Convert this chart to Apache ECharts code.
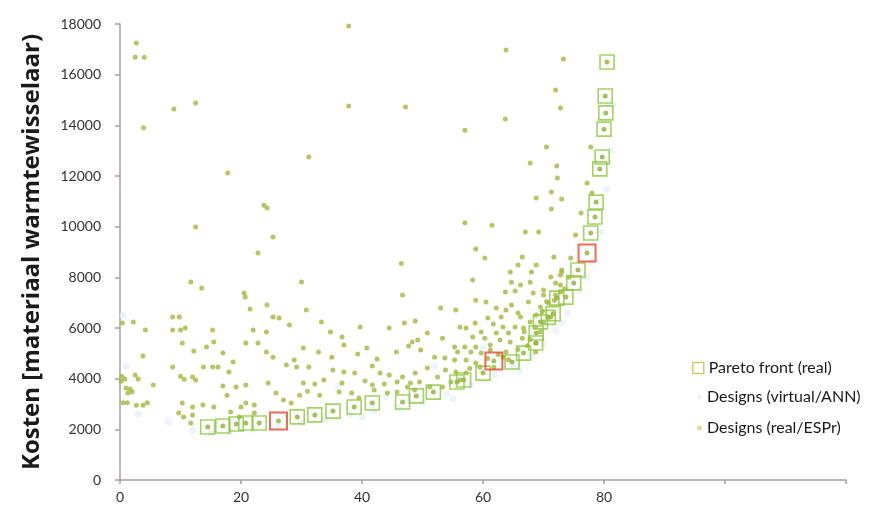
<!DOCTYPE html>
<html>
<head>
<meta charset="utf-8">
<title>Pareto front</title>
<script src="https://cdn.jsdelivr.net/npm/echarts@6/dist/echarts.min.js"></script>
<style>
  html, body { margin: 0; padding: 0; background: #fff; }
  #main { width: 872px; height: 513px; }
</style>
</head>
<body>
<div id="main"></div>
<script>
// x tick labels (ticks go on to 120 but only 0..80 carry a label)
var xLabels = [0, 20, 40, 60, 80];

// Pareto front (real), [x, kosten]
var paretoFront = [
    [14.5, 2090], [17, 2130], [19.2, 2210], [20.8, 2250], [23, 2250], [29.3, 2490],
    [32.2, 2570], [35.2, 2720], [38.7, 2880], [41.7, 3040], [46.7, 3080], [49, 3320],
    [51.8, 3470], [55.7, 3870], [56.8, 3950], [60, 4220], [64.8, 4660], [66.7, 5010],
    [68.7, 5410], [68.8, 5800], [69.5, 6240], [70.8, 6420], [71.6, 6560], [72.2, 7180],
    [73.7, 7220], [75, 7780], [75.7, 8290], [77.8, 9750], [78.5, 10380], [78.7, 10970],
    [79.3, 12280], [79.7, 12750], [80, 13850], [80.3, 14490], [80.2, 15160], [80.5, 16500]
];

// the three highlighted (red) designs on the front
var paretoMarked = [[26.2, 2330], [61.8, 4700], [77.2, 8960]];

// Designs (real/ESPr)
var designsReal = [
    [2.7, 17250], [2.5, 16690], [4, 16690], [3.9, 13900], [37.8, 17920], [12.5, 14880],
    [8.9, 14640], [37.8, 14760], [31.2, 12750], [17.8, 12120], [23.8, 10850], [24.3, 10740],
    [12.5, 9990], [25.3, 9590], [22.8, 8960], [63.8, 16970], [73.3, 16620], [47.2, 14720],
    [57, 13810], [63.7, 14250], [72, 15390], [72.8, 14680], [70.5, 13140], [67.8, 12510],
    [72.2, 12390], [72.3, 11920], [71.3, 11370], [68.8, 11130], [73, 11090], [77.8, 13140],
    [77.2, 11720], [78, 11330], [46.5, 8550],
    [0.4, 6200], [2.2, 6240], [4.2, 5920], [3.8, 4890], [0.3, 4100], [0.8, 3990],
    [2.5, 4140], [3, 3990], [0.2, 3900], [1, 3630], [1.7, 3590], [2, 3470], [1.3, 3430],
    [5.5, 3750], [0.5, 3050], [1.2, 3050], [2.7, 2950], [3.8, 2950], [4.5, 3050],
    [8.7, 6430], [9.8, 6430], [8.7, 5920], [10, 5920], [10.8, 6000], [15.3, 5920],
    [10.3, 5410], [15.5, 5450], [12.2, 5090], [14.3, 5250], [17, 5010], [8.7, 4460],
    [13.8, 4460], [15.3, 4460], [16.2, 4460], [18, 4260], [18.7, 4660], [10, 4100],
    [10.6, 3980], [12, 4070], [12.5, 3950], [17, 3710], [19.2, 3670], [20.8, 3750],
    [24.5, 3830], [10.3, 3040], [12, 2880], [13.7, 2960], [15.5, 2880], [17.7, 3350],
    [20, 2880], [20.8, 3040], [22.2, 2960], [10.5, 2490], [11.7, 2250], [9.7, 2640],
    [18.3, 2680], [19.7, 2490], [22.2, 2640], [12, 2570],
    [11.7, 7820], [13.5, 7580], [20.5, 7380], [20.7, 7220], [30, 7820], [24.3, 6910],
    [21.5, 6750], [30.8, 6710], [46.7, 7300], [25.3, 6430], [26.3, 6390], [33.3, 6240],
    [22, 5920], [24.2, 5840], [28, 6120], [34.8, 5840], [36.7, 5640], [39.7, 6040],
    [44.5, 6000], [47, 6200], [48.8, 6280], [20.8, 5410], [22.8, 5410], [24.2, 5050],
    [25.3, 4850], [48.3, 5450], [49.2, 5530], [28.8, 4740], [35, 4850], [40.8, 5210],
    [30.3, 5210], [32.8, 5050], [37, 5330], [39.3, 4970], [42.5, 4780], [45.7, 5050],
    [47.7, 5290], [49.7, 5130], [27.5, 4540], [29.2, 4460], [31.2, 4460], [35.2, 4340],
    [37, 4260], [38.8, 4220], [41.7, 4500], [43, 4220], [44.5, 4140], [46.7, 4070],
    [48.8, 4220], [30.3, 3830], [32.2, 3790], [33.7, 3950], [36.7, 3830], [40.5, 3910],
    [41.7, 3750], [43.7, 3790], [45.8, 3870], [48, 3830], [49.5, 3870], [25.8, 3430],
    [27, 3160], [28.3, 3040], [29.7, 3350], [33, 3350], [36.2, 3470], [38.3, 3430],
    [39.5, 3240], [44.2, 3430], [45.8, 3470], [42, 3550], [47.5, 3670], [48.7, 3550],
    [31, 3500],
    [57, 10150], [61.5, 10060], [67, 9790], [69.2, 9790], [71.3, 10700], [58.8, 9120],
    [60.3, 8760], [66.5, 8800], [71.7, 8800], [75.3, 9670], [76.2, 10540], [65.8, 8490],
    [68.8, 8490], [73, 8210], [64.5, 8210], [68, 8210], [58.3, 7890], [64.7, 7810],
    [66.2, 7700], [67.8, 7810], [72.8, 7700], [63.7, 7420], [65.3, 7460], [68.3, 7380],
    [70, 7300], [72, 7300], [58.8, 7100], [60.5, 7030], [64.7, 6910], [67.5, 7030],
    [53, 6790], [55.5, 6710], [62.2, 6790], [63.8, 6710], [65.8, 6590], [60.8, 6390],
    [63, 6430], [66.2, 6430], [67.8, 6240], [58.7, 6200], [61.7, 6160], [63.3, 6040],
    [65.3, 6040], [66.7, 6000], [56.2, 6040], [57.2, 6000], [50.8, 5800], [59.7, 5840],
    [62.2, 5800], [64.2, 5800], [53.3, 5600], [58.3, 5640], [60.3, 5600], [62.8, 5530],
    [64.5, 5450], [55.3, 5250], [57, 5250], [58.8, 5250], [61.2, 5330], [55.8, 5050],
    [58, 5050], [59.7, 5010], [63.8, 5050], [52, 4850], [53.7, 4820], [55.3, 4740],
    [57.2, 4740], [58.8, 4620], [50.8, 4420], [53.8, 4340], [55.5, 4260], [57.2, 4220],
    [52.5, 4070], [54.7, 3870], [56.2, 3950], [51.2, 3670], [53.3, 3670],
    [72.8, 8090], [71.2, 8010], [74.5, 8760], [72, 7780], [70, 7500], [72.8, 7420],
    [70.8, 6990], [69.5, 6830], [68.8, 6510], [71.2, 6430], [70, 6240], [68.7, 6040],
    [69.5, 5840], [68.8, 5410], [68.7, 5050], [73, 8290], [63.3, 4860], [61.2, 5130],
    [66.5, 5600], [67.3, 5300], [65.8, 5150], [62.5, 4950], [60.8, 4800], [59.5, 4450],
    [57.8, 4400], [66.8, 5850], [69.8, 6650], [70.5, 7050], [71.8, 7100], [73.5, 7550],
    [74.2, 8000], [61.8, 4450], [64.2, 4750], [67.8, 5550]
];

// Designs (virtual/ANN) - very faint cloud, mostly just outside the front
var designsVirtual = [
    [15, 1850], [18, 1900], [22, 2000], [26, 2100], [30, 2250], [34, 2400], [38, 2600],
    [42, 2750], [46, 2850], [50, 3050], [54, 3400], [58, 3750], [62, 4150], [65, 4450],
    [68, 4900], [70, 5400], [72, 5900], [74, 6600], [76, 7500], [78, 8600], [79.5, 9800],
    [80.5, 11500], [81, 13000], [81.5, 14800], [0.5, 6500], [1, 4500], [3, 2600], [8, 2300],
    [12, 1950], [40, 2500], [55, 3200], [66, 4300], [73, 6200], [77, 8000], [36, 3700],
    [52, 4500], [60, 5200], [44, 3300]
];

var fontName = 'Lato';
var axisColor = '#aa9c9c';
var legendText = { color: '#1a1a1a', fontSize: 16, fontFamily: fontName };

var myChart = echarts.init(document.getElementById('main'));

var option = {
    backgroundColor: '#fff',
    animation: false,
    textStyle: { fontFamily: fontName },
    grid: {
        left: 120,
        right: 26,
        top: 24,
        bottom: 33
    },
    xAxis: {
        type: 'value',
        min: 0,
        max: 120,
        interval: 20,
        splitLine: { show: false },
        axisLine: { lineStyle: { color: axisColor, width: 1.5 } },
        axisTick: { length: 4, lineStyle: { color: axisColor, width: 1.5 } },
        axisLabel: {
            color: '#333',
            fontSize: 14,
            margin: 10,
            formatter: function (v) {
                return xLabels.indexOf(v) >= 0 ? String(v) : '';
            }
        }
    },
    yAxis: {
        type: 'value',
        min: 0,
        max: 18000,
        interval: 2000,
        name: 'Kosten [materiaal warmtewisselaar)',
        nameLocation: 'middle',
        nameGap: 76,
        nameTextStyle: {
            color: '#1a1a1a',
            fontSize: 24,
            fontWeight: 'bold',
            fontFamily: 'Open Sans'
        },
        splitLine: { show: false },
        axisLine: { show: true, lineStyle: { color: axisColor, width: 1.5 } },
        axisTick: { show: true, length: 5, lineStyle: { color: axisColor, width: 1.5 } },
        axisLabel: {
            color: '#333',
            fontSize: 14,
            margin: 19,
            formatter: function (v) { return String(v); }
        }
    },
    legend: [{
        left: 692,
        top: 360,
        padding: 0,
        itemWidth: 11,
        itemHeight: 11,
        textStyle: legendText,
        data: [{
            name: 'Pareto front (real)',
            icon: 'rect',
            itemStyle: { color: '#fff', borderColor: '#bcc43c', borderWidth: 1.5 }
        }]
    }, {
        left: 697,
        top: 389,
        padding: 0,
        itemWidth: 5,
        itemHeight: 5,
        textStyle: legendText,
        data: [{ name: 'Designs (virtual/ANN)', icon: 'circle', itemStyle: { color: '#e6eef8' } }]
    }, {
        left: 697,
        top: 420,
        padding: 0,
        itemWidth: 5,
        itemHeight: 5,
        textStyle: legendText,
        data: [{ name: 'Designs (real/ESPr)', icon: 'circle', itemStyle: { color: '#d8d080' } }]
    }],
    series: [{
        name: 'Designs (virtual/ANN)',
        type: 'scatter',
        symbol: 'circle',
        symbolSize: 7,
        itemStyle: { color: '#e8f0f9', opacity: 0.8 },
        data: designsVirtual,
        z: 1
    }, {
        name: 'Designs (real/ESPr)',
        type: 'scatter',
        symbol: 'circle',
        symbolSize: 5,
        itemStyle: { color: '#a3b63e' },
        data: designsReal,
        z: 2
    }, {
        // the front points are real designs too: dot inside each square
        name: 'front-dots',
        type: 'scatter',
        symbolSize: 5,
        itemStyle: { color: '#8fae3c' },
        data: paretoFront.concat(paretoMarked),
        z: 3
    }, {
        name: 'Pareto front (real)',
        type: 'scatter',
        symbol: 'rect',
        symbolSize: 14,
        itemStyle: { color: 'transparent', borderColor: '#8cc63f', borderWidth: 1.6 },
        data: paretoFront,
        z: 4
    }, {
        name: 'marked',
        type: 'scatter',
        symbol: 'rect',
        symbolSize: 17,
        itemStyle: { color: 'transparent', borderColor: '#e8432e', borderWidth: 2 },
        data: paretoMarked,
        z: 5
    }]
};

myChart.setOption(option);
</script>
</body>
</html>
